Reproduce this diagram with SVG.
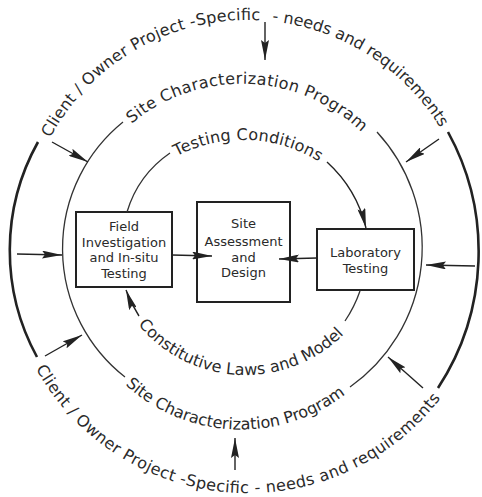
<svg xmlns="http://www.w3.org/2000/svg" xmlns:xlink="http://www.w3.org/1999/xlink" width="482" height="497" viewBox="0 0 482 497">
  <style>
    .lbl { font-family: "DejaVu Sans", "Liberation Sans", sans-serif; fill: #2a2a2a; }
    .ring { font-size: 16px; }
    .box { fill: #ffffff; stroke: #222; stroke-width: 2; }
    .boxtxt { font-size: 13px; text-anchor: middle; }
    .thick { fill: none; stroke: #222; stroke-width: 2.6; }
    .thin { fill: none; stroke: #333; stroke-width: 1.3; }
    .arr { fill: none; stroke: #222; stroke-width: 1.4; marker-end: url(#ah); }
  </style>
  <defs>
    <marker id="ah" markerUnits="userSpaceOnUse" viewBox="0 0 20 8" refX="20" refY="4" markerWidth="20" markerHeight="8" orient="auto">
      <path d="M0,0 L20,4 L0,8 L3,4 z" fill="#222"/>
    </marker>
    <path id="pOuterTop1" d="M50,138 A225,225 0 0 1 260,20.3"/>
    <path id="pOuterTop2" d="M272,21.3 A225,225 0 0 1 440,127.7"/>
    <path id="pOuterBot" d="M35.8,368.6 A243,243 0 0 0 440.8,398"/>
    <path id="pMidTop" d="M131.6,123.7 A172.3,172.3 0 0 1 361.2,131.7"/>
    <path id="pMidBot" d="M125.3,384.8 A172,172 0 0 0 344.8,394.7"/>
    <path id="pInTop" d="M176.5,156.3 A143,143 0 0 1 319.3,161.9"/>
    <path id="pInBot" d="M138,324.6 A139.5,139.5 0 0 0 343.9,334.2"/>
  </defs>
  <rect x="0" y="0" width="482" height="497" fill="#ffffff"/>

  <g id="outer-ring">
    <path class="thick" d="M38,142 A222.3,222.3 0 0 0 37,357"/>
    <path class="thick" d="M448,132 A249,249 0 0 1 438,388"/>
    <text class="lbl ring"><textPath xlink:href="#pOuterTop1" href="#pOuterTop1" textLength="254" lengthAdjust="spacing">Client / Owner Project -Specific</textPath></text>
    <text class="lbl ring"><textPath xlink:href="#pOuterTop2" href="#pOuterTop2" textLength="206" lengthAdjust="spacing">- needs and requirements</textPath></text>
    <text class="lbl ring"><textPath xlink:href="#pOuterBot" href="#pOuterBot" textLength="480" lengthAdjust="spacing">Client / Owner Project -Specific - needs and requirements</textPath></text>
  </g>

  <g id="middle-ring">
    <path class="thin" d="M123,122 A163,163 0 0 0 125,377"/>
    <path class="thin" d="M377,132 A170.6,170.6 0 0 1 350,387"/>
    <text class="lbl ring"><textPath xlink:href="#pMidTop" href="#pMidTop" textLength="252" lengthAdjust="spacing">Site Characterization Program</textPath></text>
    <text class="lbl ring"><textPath xlink:href="#pMidBot" href="#pMidBot" textLength="239" lengthAdjust="spacing">Site Characterization Program</textPath></text>
  </g>

  <g id="inner-ring">
    <text class="lbl ring"><textPath xlink:href="#pInTop" href="#pInTop" textLength="149" lengthAdjust="spacing">Testing Conditions</textPath></text>
    <text class="lbl ring"><textPath xlink:href="#pInBot" href="#pInBot" textLength="232" lengthAdjust="spacing">Constitutive Laws and Model</textPath></text>
  </g>

  <g id="field-investigation">
    <rect class="box" x="76" y="212" width="96" height="75"/>
    <text class="lbl boxtxt" x="124" y="231">Field</text>
    <text class="lbl boxtxt" x="124" y="246.5">Investigation</text>
    <text class="lbl boxtxt" x="124" y="262">and In-situ</text>
    <text class="lbl boxtxt" x="124" y="277.5">Testing</text>
  </g>

  <g id="site-assessment">
    <rect class="box" x="197" y="202" width="93" height="100" stroke-width="2.4"/>
    <text class="lbl boxtxt" x="243.5" y="228">Site</text>
    <text class="lbl boxtxt" x="243.5" y="246">Assessment</text>
    <text class="lbl boxtxt" x="243.5" y="262">and</text>
    <text class="lbl boxtxt" x="243.5" y="277">Design</text>
  </g>

  <g id="laboratory-testing">
    <rect class="box" x="317" y="229" width="97" height="61"/>
    <text class="lbl boxtxt" x="365.5" y="257">Laboratory</text>
    <text class="lbl boxtxt" x="365.5" y="273">Testing</text>
  </g>

  <g id="connectors">
    <path class="thin" d="M127,212 A110,110 0 0 1 170,153"/>
    <path class="arr" d="M327,162 A130,130 0 0 1 366,228"/>
    <path class="thin" d="M360,291 A130,130 0 0 1 345,321"/>
    <path class="arr" d="M139,316 A130,130 0 0 1 126,290"/>
    <path class="arr" d="M265,22 L265,60"/>
    <path class="arr" d="M235,470 L235,438"/>
    <path class="arr" d="M17,254 L62,255"/>
    <path class="arr" d="M52,142 L88,162"/>
    <path class="arr" d="M45,356 L82,335"/>
    <path class="arr" d="M475,266 L426,265"/>
    <path class="arr" d="M439,139 L406,162"/>
    <path class="arr" d="M423,388 L388,357"/>
    <path class="arr" d="M172,255 L212,256"/>
    <path class="arr" d="M317,258 L279,259"/>
  </g>
</svg>
